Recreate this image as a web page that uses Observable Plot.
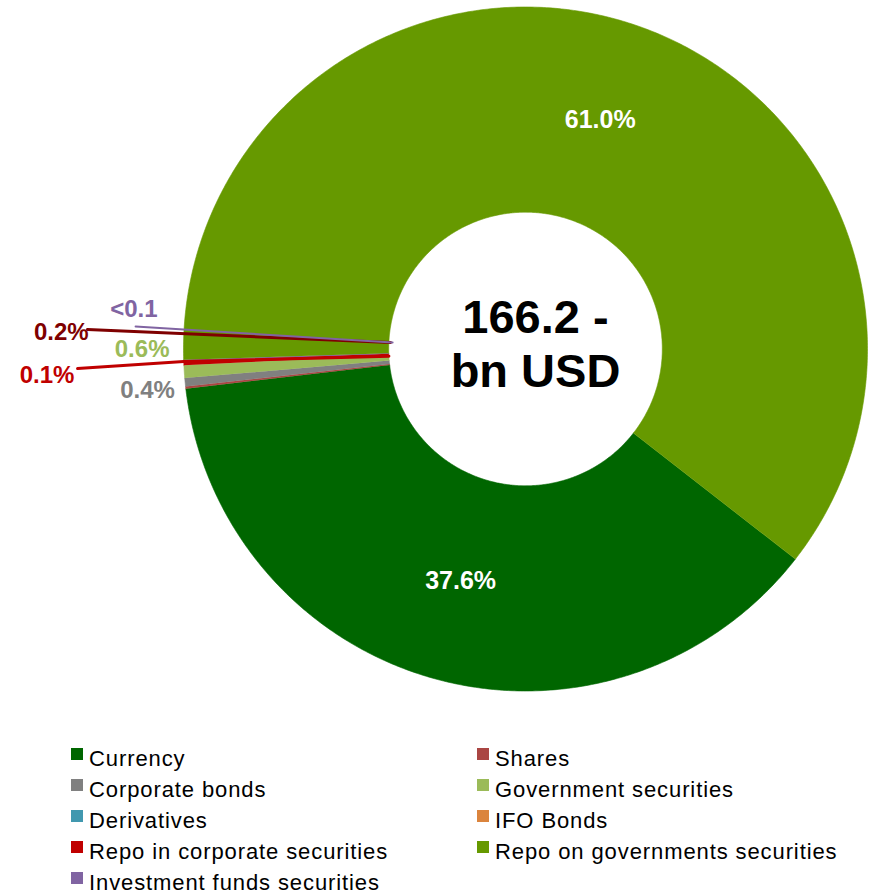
<!DOCTYPE html>
<html><head><meta charset="utf-8">
<script src="https://cdn.jsdelivr.net/npm/d3@7"></script>
<script src="https://cdn.jsdelivr.net/npm/@observablehq/plot@0.6"></script>
<style>
html,body{margin:0;padding:0;background:#fff;overflow:hidden;}
#chart{width:869px;height:740px;}
#legend{font-family:"Liberation Sans",Arial,sans-serif;font-size:22px;letter-spacing:0.9px;color:#000;display:grid;grid-template-columns:406px auto;padding-left:71px;padding-top:3px;line-height:31px;height:153px;overflow:hidden;}
.item{white-space:nowrap;}
.sw{display:inline-block;width:12px;height:12px;margin-right:6px;vertical-align:6px;}
</style></head>
<body><div id="chart"></div><div id="legend"></div>
<script>
// ---- data ----
const categories = ["Currency","Shares","Corporate bonds","Government securities","Derivatives","IFO Bonds","Repo in corporate securities","Repo on governments securities","Investment funds securities"];
const values = [37.6, 0.1, 0.4, 0.6, 0, 0, 0.2, 61.0, 0.05];
const colors = ["#006600","#AA4643","#808080","#9BBB59","#4198AF","#DB843D","#C00000","#669900","#8064A2"];
const drawOrder = [0,1,2,3,4,5,6,8,7];
const centerLines = ["166.2 -","bn USD"];
// small outside labels (polar: angle clockwise from 12 o'clock, radius in outer radii)
const smallLabels = ["<0.1","0.2%","0.6%","0.1%","0.4%"];
const smallLabelColors = ["#8064A2","#7F0000","#9BBB59","#C00000","#808080"];
const smallLabelAngles = [275.8, 272.0, 270.0, 266.9, 263.7];
const smallLabelRadii = [1.151, 1.358, 1.121, 1.401, 1.112];
// leader lines
const leaderColors = ["#7F0000","#8064A2","#C00000"];
const leaderWidths = [3, 2, 3];
const leaderAngles = [[272.55, 272.76],[273.3, 272.8],[267.5, 267.9, 267.0]];
const leaderRadii = [[1.282, 0.395],[1.142, 0.389],[1.311, 1.0, 0.40]];

// ---- layout ----
const W = 869, H = 740, cx = 525, cy = 348.5, R = 342, innerR = 0.4, startAngle = 127.9;
const toXY = (deg, r) => [r*Math.sin(deg*Math.PI/180), r*Math.cos(deg*Math.PI/180)];

const total = d3.sum(values);
let a = startAngle;
const slicePts = [];
const mids = {};
for (const i of drawOrder) {
  const span = values[i]/total*360;
  const a0 = a, a1 = a + span; a = a1;
  mids[i] = (a0 + a1)/2;
  if (values[i] <= 0) continue;
  const n = Math.max(2, Math.ceil(span/0.5));
  for (let k = 0; k <= n; k++) { const [x,y] = toXY(a0+(a1-a0)*k/n, 1); slicePts.push({key:categories[i], x, y, color:colors[i]}); }
  for (let k = n; k >= 0; k--) { const [x,y] = toXY(a0+(a1-a0)*k/n, innerR); slicePts.push({key:categories[i], x, y, color:colors[i]}); }
}
const bigLabels = values.map((v,i)=>({v,i})).filter(d=>d.v>=10).map(d=>{const [x,y]=toXY(mids[d.i],0.705); return {x,y,text:d.v.toFixed(1)+"%"};});
const small = smallLabels.map((t,i)=>{const [x,y]=toXY(smallLabelAngles[i], smallLabelRadii[i]); return {x,y,text:t,color:smallLabelColors[i]};});
const leaderMarks = leaderColors.map((c,j)=>Plot.line(leaderAngles[j].map((ang,k)=>{const [x,y]=toXY(ang, leaderRadii[j][k]); return {x,y};}), {x:"x", y:"y", stroke:c, strokeWidth:leaderWidths[j]}));
const font = "'Liberation Sans', Arial, sans-serif";

const chart = Plot.plot({
  width: W, height: H, margin: 0,
  x: {domain: [-cx/R, (W-cx)/R], axis: null},
  y: {domain: [(cy-H)/R, cy/R], axis: null},
  color: {type: "identity"},
  style: {background: "white"},
  marks: [
    Plot.line(slicePts, {x:"x", y:"y", z:"key", fill:"color", stroke:"color", strokeWidth:0.6}),
    ...leaderMarks,
    Plot.text(bigLabels, {x:"x", y:"y", text:"text", fill:"white", fontSize:25, fontWeight:"bold", fontFamily:font}),
    Plot.text(small, {x:"x", y:"y", text:"text", fill:"color", fontSize:24, fontWeight:"bold", fontFamily:font}),
    Plot.text([{x:0,y:0,text:centerLines.join("\n")}], {x:"x", y:"y", text:"text", dx:10, dy:-6.5, lineHeight:1.15, fill:"black", fontSize:47, fontWeight:"bold", fontFamily:font})
  ]
});
document.getElementById("chart").appendChild(chart);

const legend = d3.select("#legend");
categories.forEach((c,i)=>{
  const it = legend.append("div").attr("class","item");
  it.append("span").attr("class","sw").style("background", colors[i]);
  it.append("span").text(c);
});
</script>
</body></html>
